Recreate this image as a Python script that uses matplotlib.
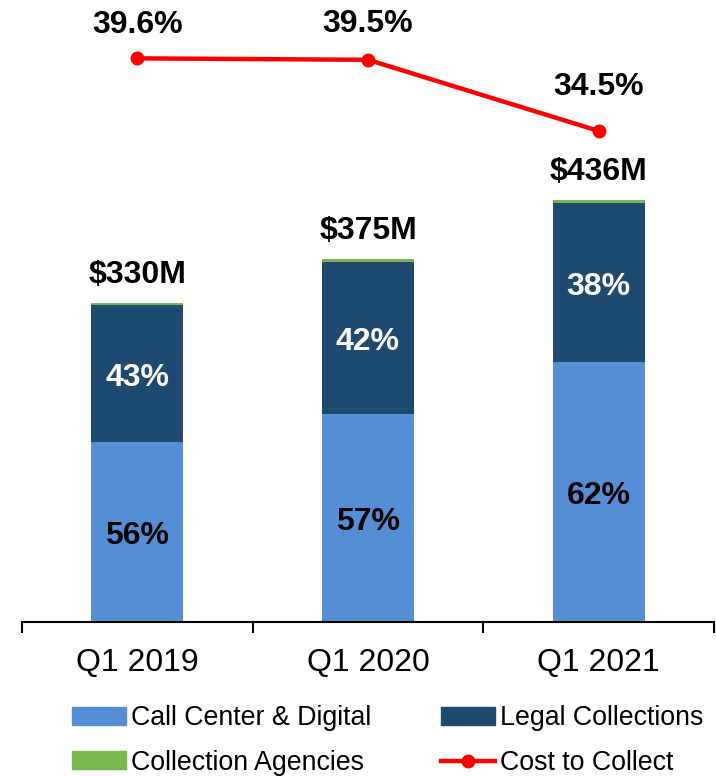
import numpy as np
import matplotlib.pyplot as plt
from matplotlib.patches import Patch
from matplotlib.lines import Line2D

plt.rcParams['font.family'] = ['Liberation Sans', 'DejaVu Sans']

quarters = ['Q1 2019', 'Q1 2020', 'Q1 2021']
totals = [330, 375, 436]                 # $M
share_call = [56.3, 57.3, 61.6]          # % of total
share_legal = [42.9, 41.9, 37.7]
share_agency = [0.8, 0.8, 0.7]
cost_to_collect = [39.6, 39.5, 34.5]     # %

c_call = '#558ED5'
c_legal = '#1F4A70'
c_agency = '#77B94D'
c_line = '#FF0000'

totals = np.array(totals, dtype=float)
call = totals * np.array(share_call) / 100
legal = totals * np.array(share_legal) / 100
agency = totals * np.array(share_agency) / 100
x = np.arange(len(quarters))

fig = plt.figure(figsize=(7.16, 7.76), dpi=100)
ax = fig.add_axes([22 / 716, 154 / 776, 692 / 716, 622 / 776])

w = 0.4
ax.bar(x, call, w, color=c_call)
ax.bar(x, legal, w, bottom=call, color=c_legal)
ax.bar(x, agency, w, bottom=call + legal, color=c_agency)

for i in range(len(x)):
    ax.annotate(f"{round(share_call[i])}%", (x[i], call[i] / 2), xytext=(0, -3), textcoords='offset points',
                ha='center', va='center', fontsize=23, fontweight='bold', color='black')
    ax.annotate(f"{round(share_legal[i])}%", (x[i], call[i] + legal[i] / 2), xytext=(0, -3),
                textcoords='offset points', ha='center', va='center', fontsize=23, fontweight='bold',
                color='white')
    ax.annotate(f"${int(totals[i])}M", (x[i], totals[i]), xytext=(0, 20), textcoords='offset points',
                ha='center', va='center', fontsize=23, fontweight='bold')

ax.set_xlim(-0.5, 2.5)
ax.set_ylim(0, 642.6)
for s in ['top', 'right', 'left']:
    ax.spines[s].set_visible(False)
ax.spines['bottom'].set_linewidth(1.5)
ax.set_yticks([])
ax.set_xticks(x)
ax.set_xticklabels(quarters, fontsize=23)
ax.tick_params(axis='x', which='major', length=0, pad=19)
ax.set_xticks([-0.5, 0.5, 1.5, 2.5], minor=True)
ax.tick_params(axis='x', which='minor', length=8, width=1.5)

ax2 = ax.twinx()
ax2.plot(x, cost_to_collect, color=c_line, lw=3.2, marker='o', ms=9)
ax2.set_ylim(0, 43.7)
ax2.set_yticks([])
for s in ax2.spines.values():
    s.set_visible(False)
offsets = [24, 25.5, 31.5]
for i in range(len(x)):
    ax2.annotate(f"{cost_to_collect[i]}%", (x[i], cost_to_collect[i]), xytext=(0, offsets[i]),
                 textcoords='offset points', ha='center', va='center', fontsize=23, fontweight='bold')

handles = [Patch(color=c_call, label='Call Center & Digital'),
           Patch(color=c_agency, label='Collection Agencies'),
           Patch(color=c_legal, label='Legal Collections'),
           Line2D([], [], color=c_line, lw=3.2, marker='o', ms=9, label='Cost to Collect')]
fig.legend(handles=handles, ncol=2, loc='upper left', bbox_to_anchor=(72 / 716, 1 - 705 / 776),
           frameon=False, fontsize=19.3, handlelength=2.0, handleheight=0.65, handletextpad=0.2,
           columnspacing=2.6, labelspacing=0.7, borderpad=0, borderaxespad=0)

fig.savefig('out.png', dpi=100)
